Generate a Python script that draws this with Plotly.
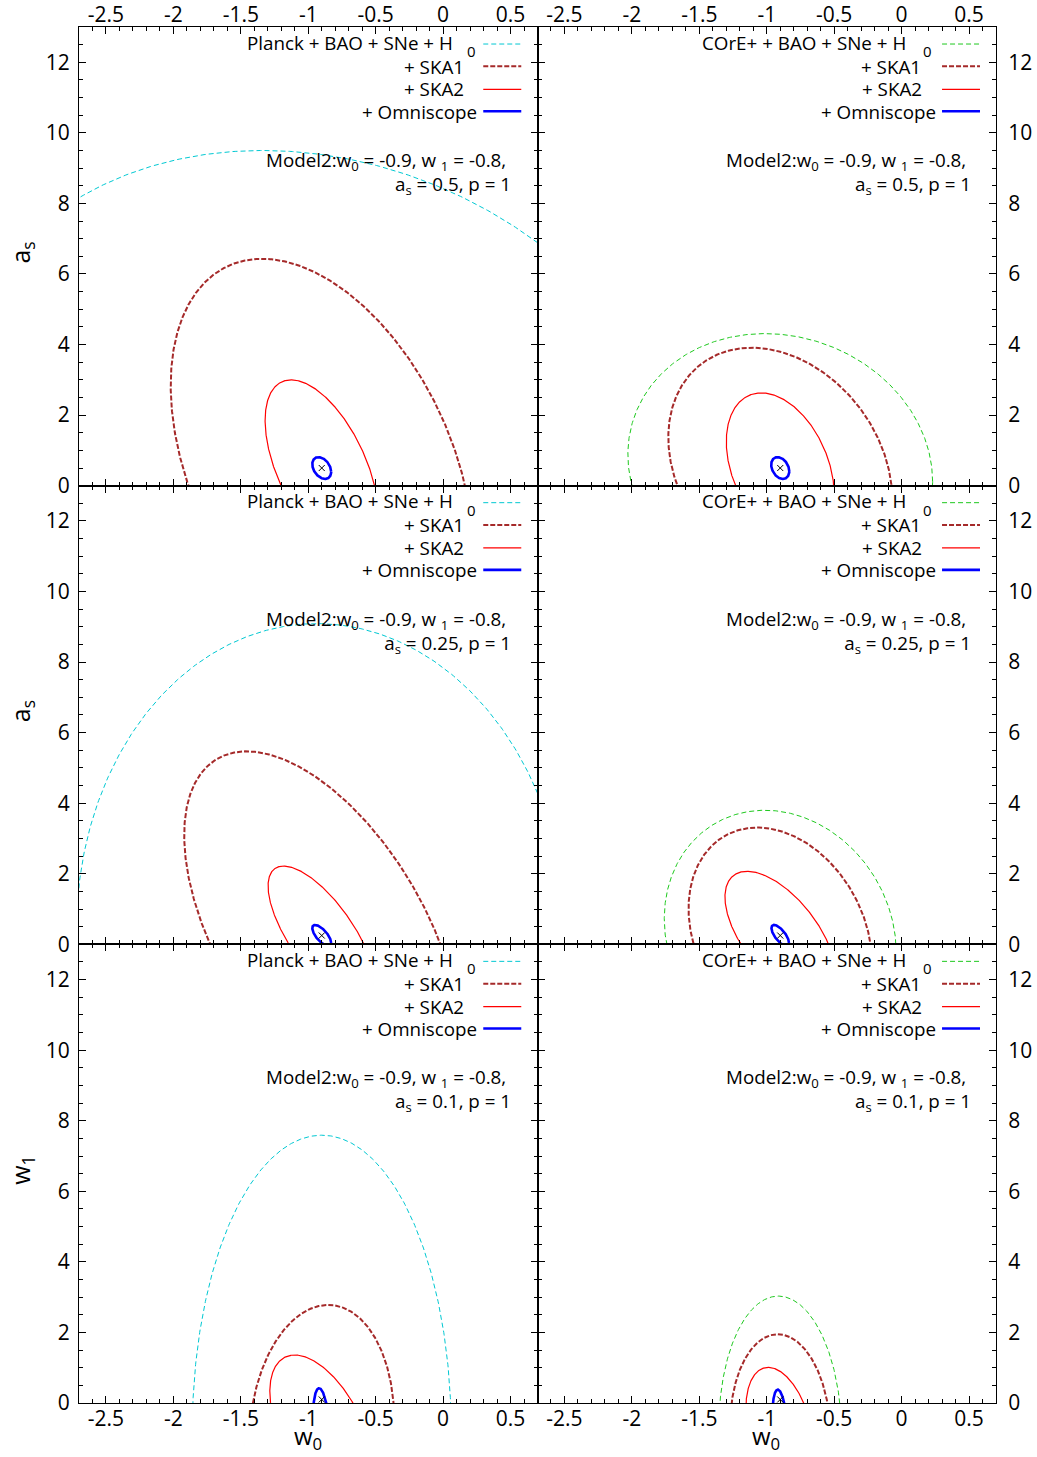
import numpy as np
import plotly.graph_objects as go
from plotly.subplots import make_subplots

# ---------------- data ----------------
W0_FIDUCIAL = -0.9
ROW_CENTER_Y = [0.5, 0.25, -0.8]      # fiducial of the vertical parameter, per row
ROW_MARKER_Y = [0.5, 0.25, 0.1]       # where the fiducial cross is drawn, per row
ROW_AS_TEXT = ["0.5", "0.25", "0.1"]
ROW_YTITLE = ["a<sub>s</sub>", "a<sub>s</sub>", "w<sub>1</sub>"]
X_TITLE = "w<sub>0</sub>"

X_TICKS = [-2.5, -2, -1.5, -1, -0.5, 0, 0.5]
X_TICK_TEXT = ["-2.5", "-2", "-1.5", "-1", "-0.5", "0", "0.5"]
Y_TICKS = [0, 2, 4, 6, 8, 10, 12]
Y_TICK_TEXT = ["0", "2", "4", "6", "8", "10", "12"]

# contours: (half extent in w0, half extent in y, correlation), one per row
PLANCK_BASE = [(2.75, 9.00, -0.16), (1.818, 8.84, -0.02), (0.96, 8.39, 0.00)]
PLANCK_SKA1 = [(1.12, 5.93, -0.395), (1.02, 5.22, -0.545), (0.537, 3.58, 0.09)]
PLANCK_SKA2 = [(0.42, 2.50, -0.54), (0.398, 1.97, -0.71), (0.385, 2.16, -0.52)]
PLANCK_OMNI = [(0.07, 0.31, -0.35), (0.07, 0.30, -0.70), (0.065, 1.22, -0.30)]
CORE_BASE = [(1.13, 3.81, -0.10), (0.86, 3.55, -0.134), (0.455, 3.83, -0.03)]
CORE_SKA1 = [(0.83, 3.41, -0.255), (0.68, 3.06, -0.25), (0.372, 2.75, -0.05)]
CORE_SKA2 = [(0.40, 2.13, -0.35), (0.41, 1.82, -0.60), (0.255, 1.81, -0.35)]
CORE_OMNI = [(0.067, 0.31, -0.30), (0.065, 0.30, -0.70), (0.06, 1.18, -0.30)]

NB = "\u00a0"
LEFT_LABELS = ["Planck + BAO + SNe + H", "+ SKA1", "+ SKA2", "+ Omniscope"]
RIGHT_LABELS = ["COrE+ + BAO + SNe + H", "+ SKA1", "+ SKA2", "+ Omniscope"]
H_SUBSCRIPT = "0"

CYAN = "#00c8d2"
GREEN = "#1ec81e"
DARKRED = "#a52a2a"
RED = "#ff0000"
BLUE = "#0000ff"

FONT = "Open Sans"
TXT = 18.8

# ---------------- figure ----------------
fig = make_subplots(rows=3, cols=2, horizontal_spacing=0, vertical_spacing=0)


def ellipse(cx, cy, a, b, rho, n=720):
    t = np.linspace(0, 2 * np.pi, n + 1)
    x = cx + a * np.cos(t)
    y = cy + b * (rho * np.cos(t) + np.sqrt(1 - rho ** 2) * np.sin(t))
    return x, y


styles_left = [
    (PLANCK_BASE, dict(color=CYAN, width=1, dash="5px,3px")),
    (PLANCK_SKA1, dict(color=DARKRED, width=2, dash="5px,2px")),
    (PLANCK_SKA2, dict(color=RED, width=1.2)),
    (PLANCK_OMNI, dict(color=BLUE, width=2.6)),
]
styles_right = [
    (CORE_BASE, dict(color=GREEN, width=1, dash="5px,3px")),
    (CORE_SKA1, dict(color=DARKRED, width=2, dash="5px,2px")),
    (CORE_SKA2, dict(color=RED, width=1.2)),
    (CORE_OMNI, dict(color=BLUE, width=2.6)),
]

annotations = []
shapes = []

# legend/text positions in axis-domain coordinates
LEG_Y = [0.9658, 0.9135, 0.8642, 0.8153]
SAMPLE_Y = [0.9629, 0.9143, 0.8642, 0.8164]
LEG_RIGHT = {0: [0.8207, 0.8436, 0.8447, 0.8719], 1: [0.8088, 0.8416, 0.8430, 0.8742]}
SUB0_X = {0: 0.8556, 1: 0.8496}
SUB0_Y = 0.9477
SAMPLE_X = {0: (0.8817, 0.9646), 1: (0.8823, 0.9651)}
MODEL_RIGHT = {0: 0.9471, 1: 0.9505}
MODEL_Y = 0.682

for r in range(3):
    for c in range(2):
        idx = r * 2 + c + 1
        sfx = "" if idx == 1 else str(idx)
        styles = styles_left if c == 0 else styles_right
        for data, ls in styles:
            a, b, rho = data[r]
            x, y = ellipse(W0_FIDUCIAL, ROW_CENTER_Y[r], a, b, rho)
            fig.add_trace(go.Scatter(x=x, y=y, mode="lines", line=ls,
                                     hoverinfo="skip", showlegend=False),
                          row=r + 1, col=c + 1)
        fig.add_trace(go.Scatter(x=[W0_FIDUCIAL], y=[ROW_MARKER_Y[r]], mode="markers",
                                 marker=dict(symbol="x-thin", size=6,
                                             line=dict(width=1, color="black")),
                                 showlegend=False, hoverinfo="skip"),
                      row=r + 1, col=c + 1)

        xr = f"x{sfx} domain"
        yr = f"y{sfx} domain"
        labels = LEFT_LABELS if c == 0 else RIGHT_LABELS
        for k in range(4):
            annotations.append(dict(text=labels[k], xref=xr, yref=yr,
                                    x=LEG_RIGHT[c][k], y=LEG_Y[k],
                                    xanchor="right", yanchor="middle", showarrow=False,
                                    font=dict(family=FONT, size=TXT, color="black")))
            ls = styles[k][1]
            shapes.append(dict(type="line", xref=xr, yref=yr,
                               x0=SAMPLE_X[c][0], x1=SAMPLE_X[c][1],
                               y0=SAMPLE_Y[k], y1=SAMPLE_Y[k],
                               line=dict(color=ls["color"], width=ls["width"],
                                         dash=ls.get("dash", "solid"))))
        annotations.append(dict(text=H_SUBSCRIPT, xref=xr, yref=yr, x=SUB0_X[c], y=SUB0_Y,
                                xanchor="center", yanchor="middle", showarrow=False,
                                font=dict(family=FONT, size=15, color="black")))
        annotations.append(dict(
            text=("Model2:w<sub>0</sub> = -0.9, w <sub>1</sub> = -0.8," + NB
                  + f"<br>a<sub>s</sub> = {ROW_AS_TEXT[r]}, p = 1"),
            xref=xr, yref=yr, x=MODEL_RIGHT[c], y=MODEL_Y, align="right",
            xanchor="right", yanchor="middle", showarrow=False,
            font=dict(family=FONT, size=TXT, color="black")))

        fig.update_xaxes(row=r + 1, col=c + 1, range=[-2.7, 0.7], automargin=False,
                         tickmode="array", tickvals=X_TICKS, ticktext=X_TICK_TEXT,
                         ticks="inside", ticklen=7, tickwidth=1, tickcolor="black",
                         minor=dict(tickmode="linear", tick0=0, dtick=0.1, ticks="inside",
                                    ticklen=4, tickwidth=1, tickcolor="black"),
                         showline=True, linecolor="black", linewidth=1, mirror="ticks",
                         showgrid=False, zeroline=False,
                         side="top" if r == 0 else "bottom",
                         showticklabels=(r != 1),
                         ticklabelstandoff=-4 if r == 0 else -3,
                         tickfont=dict(family=FONT, size=21, color="black"))
        fig.update_yaxes(row=r + 1, col=c + 1, range=[0, 13], automargin=False,
                         tickmode="array", tickvals=Y_TICKS, ticktext=Y_TICK_TEXT,
                         ticks="inside", ticklen=7, tickwidth=1, tickcolor="black",
                         minor=dict(tickmode="linear", tick0=0, dtick=0.5, ticks="inside",
                                    ticklen=4, tickwidth=1, tickcolor="black"),
                         showline=True, linecolor="black", linewidth=1, mirror="ticks",
                         showgrid=False, zeroline=False,
                         side="left" if c == 0 else "right",
                         ticklabelstandoff=4 if c == 0 else 7,
                         tickfont=dict(family=FONT, size=21, color="black"))

# axis titles (paper coordinates from pixel positions)
PL, PR, PT, PB = 78.5, 996.0, 27.0, 1403.0


def px2paper(px, py):
    return (px - PL) / (PR - PL), (PB - py) / (PB - PT)


for c in range(2):
    off = c * 458.75
    x, y = px2paper(307.5 + off, 1437.0)
    annotations.append(dict(text=X_TITLE, xref="paper", yref="paper", x=x, y=y,
                            xanchor="center", yanchor="middle", showarrow=False,
                            font=dict(family=FONT, size=24, color="black")))

for r in range(3):
    x, y = px2paper(21.0, 253.0 + r * 458.67)
    annotations.append(dict(text=ROW_YTITLE[r], xref="paper", yref="paper", x=x, y=y,
                            xanchor="center", yanchor="middle", showarrow=False, textangle=-90,
                            font=dict(family=FONT, size=25, color="black")))

fig.update_layout(width=1037, height=1457,
                  margin=dict(l=PL, r=1037 - PR, t=PT, b=1457 - PB, pad=0),
                  paper_bgcolor="white", plot_bgcolor="white",
                  annotations=annotations, shapes=shapes,
                  font=dict(family=FONT, color="black"))

fig.write_html("out.html")
